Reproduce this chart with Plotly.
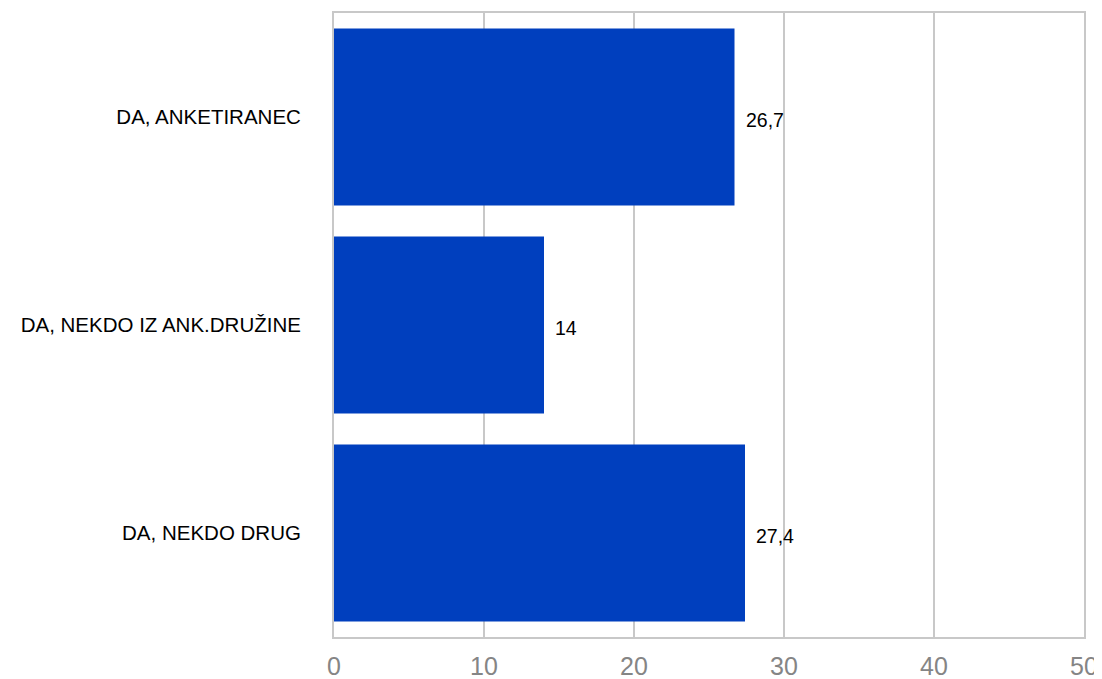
import plotly.graph_objects as go

categories = ["DA, ANKETIRANEC", "DA, NEKDO IZ ANK.DRUŽINE", "DA, NEKDO DRUG"]
values = [26.7, 14, 27.4]
value_labels = ["26,7", "14", "27,4"]
x_ticks = [0, 10, 20, 30, 40, 50]

BAR_COLOR = "#003FBE"
GRID = "#c8c8c8"

fig = go.Figure()
fig.add_trace(go.Bar(
    x=values, y=categories, orientation="h",
    marker=dict(color=BAR_COLOR, line=dict(width=0)),
    hoverinfo="skip",
))

for cat, v, lab in zip(categories, values, value_labels):
    fig.add_annotation(
        x=v, y=cat, text=lab, showarrow=False,
        xanchor="left", yanchor="middle", xshift=9, yshift=-3,
        font=dict(family="Liberation Sans, Arial, sans-serif", size=19.5, color="#000000"),
    )

fig.update_layout(
    width=1094, height=671,
    margin=dict(l=326, r=18, t=5, b=42, autoexpand=False),
    paper_bgcolor="white", plot_bgcolor="white",
    bargap=0.15,
    showlegend=False,
    font=dict(family="Liberation Sans, Arial, sans-serif"),
)

fig.update_xaxes(
    range=[0, 50], tickvals=x_ticks, ticktext=[str(t) for t in x_ticks],
    showgrid=True, gridcolor=GRID, gridwidth=2,
    showline=True, linecolor=GRID, linewidth=2, mirror=True,
    zeroline=False,
    ticks="outside", ticklen=0, ticklabelstandoff=6,
    tickfont=dict(size=25, color="#858585"),
    automargin=False,
)
fig.update_yaxes(
    categoryorder="array", categoryarray=categories, autorange="reversed",
    showgrid=False,
    showline=True, linecolor=GRID, linewidth=2, mirror=True,
    zeroline=False,
    ticks="outside", ticklen=0, ticklabelstandoff=27,
    tickfont=dict(size=20.5, color="#000000"),
    automargin=False,
)

fig.write_html("out.html")
